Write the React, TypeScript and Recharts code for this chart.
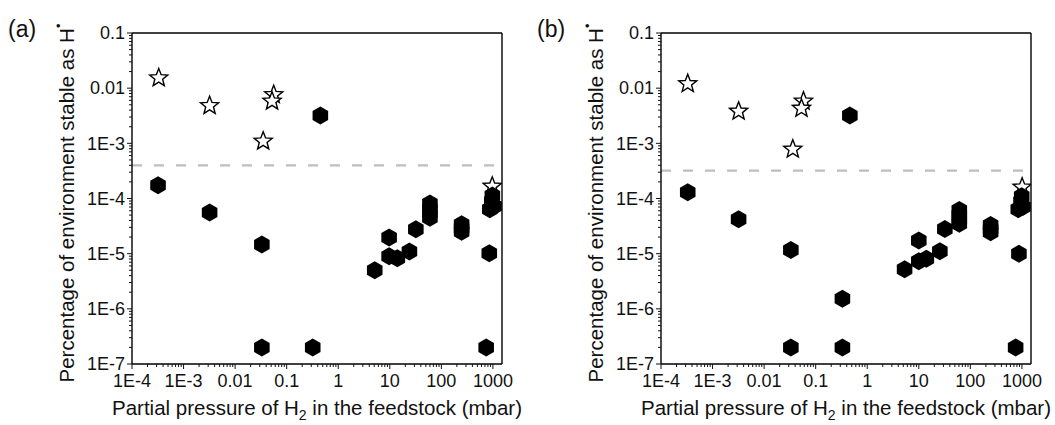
import React from 'react';
import { ScatterChart, Scatter, XAxis, YAxis, ReferenceLine } from 'recharts';

// axis ticks
const xMajor = [1e-4, 1e-3, 0.01, 0.1, 1, 10, 100, 1000];
const xMajorLabels = ['1E-4', '1E-3', '0.01', '0.1', '1', '10', '100', '1000'];
const yMajor = [1e-7, 1e-6, 1e-5, 1e-4, 1e-3, 0.01, 0.1];
const yMajorLabels = ['1E-7', '1E-6', '1E-5', '1E-4', '1E-3', '0.01', '0.1'];
const xDomain = [1e-4, 1500];
const yDomain = [1e-7, 0.1];

// panel (a)
const aStarX = [3.3e-4, 3.2e-3, 0.056, 0.052, 0.035, 970];
const aStarY = [0.0153, 4.8e-3, 7.6e-3, 5.8e-3, 1.09e-3, 1.66e-4];
const aHexX = [0.45, 3.2e-4, 3.2e-3, 0.033, 0.033, 0.32, 740, 5.1, 9.7, 9.7, 14, 24, 32, 60, 60, 60, 60, 247, 247, 247, 850, 975, 950, 870, 1050];
const aHexY = [3.2e-3, 1.73e-4, 5.6e-5, 1.46e-5, 2e-7, 2e-7, 2e-7, 5.0e-6, 1.96e-5, 9.0e-6, 8.3e-6, 1.09e-5, 2.77e-5, 8.1e-5, 6.6e-5, 5.4e-5, 4.5e-5, 3.4e-5, 2.9e-5, 2.5e-5, 1.02e-5, 1.13e-4, 8.9e-5, 6.4e-5, 7.2e-5];
const aCutoff = 4.0e-4;

// panel (b)
const bStarX = [3.3e-4, 3.2e-3, 0.058, 0.053, 0.036, 1010];
const bStarY = [0.012, 3.8e-3, 5.8e-3, 4.3e-3, 7.8e-4, 1.6e-4];
const bHexX = [0.46, 3.3e-4, 3.2e-3, 0.033, 0.33, 0.033, 0.33, 755, 875, 5.3, 10, 10, 14, 25.6, 32, 61, 61, 61, 61, 247, 247, 247, 990, 960, 850, 1050];
const bHexY = [3.2e-3, 1.3e-4, 4.2e-5, 1.16e-5, 1.53e-6, 2e-7, 2e-7, 2e-7, 1.0e-5, 5.2e-6, 1.74e-5, 7.3e-6, 8.1e-6, 1.11e-5, 2.8e-5, 6.2e-5, 5.0e-5, 4.2e-5, 3.5e-5, 3.3e-5, 2.8e-5, 2.45e-5, 1.1e-4, 8.8e-5, 6.4e-5, 7.1e-5];
const bCutoff = 3.2e-4;

const FONT = '"Liberation Sans", Arial, Helvetica, sans-serif';
const INK = '#111';

const pairs = (xs: number[], ys: number[]) => xs.map((x, i) => ({ x, y: ys[i] }));

// minor log ticks 2..9 between majors
const minors = (majors: number[], max: number) => {
  const out: number[] = [];
  majors.forEach((m) => {
    for (let k = 2; k <= 9; k++) if (m * k <= max) out.push(m * k);
  });
  return out;
};
const xTicks = [...xMajor, ...minors(xMajor, xDomain[1])];
const yTicks = [...yMajor, ...minors(yMajor.slice(0, -1), yDomain[1])];

const majorIndex = (v: number, majors: number[]) => majors.findIndex((m) => Math.abs(v / m - 1) < 1e-6);

function XTick(props: any) {
  const { x, y, payload } = props;
  const idx = majorIndex(payload.value, xMajor);
  const major = idx >= 0;
  return (
    <g>
      <line x1={x} y1={y} x2={x} y2={y + (major ? 5 : 3)} stroke={INK} strokeWidth={1} />
      {major && (
        <text x={x} y={y + 23} textAnchor="middle" fontSize={18} fill={INK} fontFamily={FONT}>
          {xMajorLabels[idx]}
        </text>
      )}
    </g>
  );
}

function YTick(props: any) {
  const { x, y, payload } = props;
  const idx = majorIndex(payload.value, yMajor);
  const major = idx >= 0;
  return (
    <g>
      <line x1={x} y1={y} x2={x - (major ? 5 : 3)} y2={y} stroke={INK} strokeWidth={1} />
      {major && (
        <text x={x - 7} y={y} dy="0.35em" textAnchor="end" fontSize={18} fill={INK} fontFamily={FONT}>
          {yMajorLabels[idx]}
        </text>
      )}
    </g>
  );
}

function Hexagon(props: any) {
  const { cx, cy } = props;
  const r = 9;
  const w = r * Math.sin(Math.PI / 3);
  const pts = [
    [cx, cy - r],
    [cx + w, cy - r / 2],
    [cx + w, cy + r / 2],
    [cx, cy + r],
    [cx - w, cy + r / 2],
    [cx - w, cy - r / 2],
  ];
  return <polygon points={pts.map((p) => p.join(',')).join(' ')} fill="#000" />;
}

function Star(props: any) {
  const { cx, cy } = props;
  const R = 9.5;
  const r = 4.1;
  const pts: string[] = [];
  for (let i = 0; i < 10; i++) {
    const a = -Math.PI / 2 + (i * Math.PI) / 5;
    const rad = i % 2 === 0 ? R : r;
    pts.push(`${cx + rad * Math.cos(a)},${cy + rad * Math.sin(a)}`);
  }
  return <polygon points={pts.join(' ')} fill="#fff" stroke="#000" strokeWidth={1.4} strokeLinejoin="miter" />;
}

type PanelProps = {
  left: number;
  width: number;
  marginRight: number;
  tag: string;
  stars: { x: number; y: number }[];
  hexes: { x: number; y: number }[];
  cutoff: number;
};

function Panel({ left, width, marginRight, tag, stars, hexes, cutoff }: PanelProps) {
  const height = 425;
  const plotLeft = 132;
  const plotW = width - plotLeft - marginRight;
  const axisStyle = { stroke: '#000', strokeWidth: 1.4 };
  return (
    <div style={{ position: 'absolute', left, top: 0, width, height }}>
      <ScatterChart width={width} height={height} margin={{ top: 33, right: marginRight, left: 72, bottom: 0 }}>
        <XAxis
          dataKey="x"
          type="number"
          scale="log"
          domain={xDomain}
          allowDataOverflow
          ticks={xTicks}
          interval={0}
          tick={<XTick />}
          tickLine={false}
          tickSize={0}
          tickMargin={0}
          height={61}
          axisLine={axisStyle}
        />
        <YAxis
          dataKey="y"
          type="number"
          scale="log"
          domain={yDomain}
          allowDataOverflow
          ticks={yTicks}
          interval={0}
          tick={<YTick />}
          tickLine={false}
          tickSize={0}
          tickMargin={0}
          width={60}
          axisLine={axisStyle}
        />
        <ReferenceLine y={cutoff} stroke="#bdbdbd" strokeWidth={2.2} strokeDasharray="10 12" />
        {/* frame: top and right edges */}
        <ReferenceLine y={yDomain[1]} stroke="#000" strokeWidth={1.4} ifOverflow="visible" />
        <ReferenceLine x={xDomain[1]} stroke="#000" strokeWidth={1.4} ifOverflow="visible" />
        <Scatter data={stars} shape={<Star />} isAnimationActive={false} />
        <Scatter data={hexes} shape={<Hexagon />} isAnimationActive={false} />
      </ScatterChart>
      <svg
        width={width}
        height={height}
        style={{ position: 'absolute', left: 0, top: 0, pointerEvents: 'none' }}
        fontFamily={FONT}
        fill={INK}
      >
        <text x={8} y={37} fontSize={23}>
          {tag}
        </text>
        <text x={74} y={203} fontSize={20.5} textAnchor="middle" transform="rotate(-90 74 203)">
          Percentage of environment stable as H
          <tspan fontSize={13} dy={-11}>•</tspan>
        </text>
        <text x={plotLeft + plotW / 2} y={415} fontSize={20.5} textAnchor="middle">
          Partial pressure of H
          <tspan fontSize={14} dy={5}>2</tspan>
          <tspan dy={-5}> in the feedstock (mbar)</tspan>
        </text>
      </svg>
    </div>
  );
}

export default function App() {
  return (
    <div style={{ position: 'absolute', left: 0, top: 0, width: 1055, height: 425, background: '#fff', fontFamily: FONT }}>
      <Panel left={0} width={527} marginRight={25} tag="(a)" stars={pairs(aStarX, aStarY)} hexes={pairs(aHexX, aHexY)} cutoff={aCutoff} />
      <Panel left={529} width={526} marginRight={24} tag="(b)" stars={pairs(bStarX, bStarY)} hexes={pairs(bHexX, bHexY)} cutoff={bCutoff} />
    </div>
  );
}
